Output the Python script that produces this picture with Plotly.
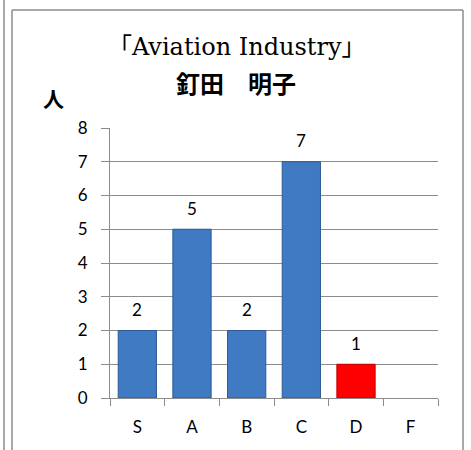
import plotly.graph_objects as go

categories = ["S", "A", "B", "C", "D", "F"]
counts = [2, 5, 2, 7, 1, 0]
bar_colors = ["#3F7AC3", "#3F7AC3", "#3F7AC3", "#3F7AC3", "#FF0000", "#3F7AC3"]
line_colors = ["#2B5A96", "#2B5A96", "#2B5A96", "#2B5A96", "#C00000", "rgba(0,0,0,0)"]
labels = ["2", "5", "2", "7", "1", ""]
y_ticks = [0, 1, 2, 3, 4, 5, 6, 7, 8]

title_line1 = "「Aviation Industry」"
title_line2 = "釘田　明子"
y_unit = "人"

FONT = "Lato, Open Sans, sans-serif"

fig = go.Figure()
fig.add_trace(go.Bar(
    x=categories, y=counts,
    marker=dict(color=bar_colors, line=dict(color=line_colors, width=1)),
    width=0.7,
))

W, H = 471, 450
ml, mr, mt, mb = 110, 33, 128, 52
pw, ph = W - ml - mr, H - mt - mb

def px(x):
    return (x - ml) / pw

def py(y):
    return (H - mb - y) / ph

grey = "#8C8C8C"
shapes = [
    dict(type="line", xref="paper", yref="paper", x0=px(12), x1=px(12), y0=py(10), y1=py(460), line=dict(color=grey, width=1.5)),
    dict(type="line", xref="paper", yref="paper", x0=px(463), x1=px(463), y0=py(10), y1=py(460), line=dict(color=grey, width=1.5)),
    dict(type="line", xref="paper", yref="paper", x0=px(12), x1=px(463), y0=py(10), y1=py(10), line=dict(color=grey, width=1.5)),
    dict(type="line", xref="paper", yref="paper", x0=px(4), x1=px(4), y0=py(0), y1=py(460), line=dict(color=grey, width=1.5)),
]

annotations = [
    dict(text=lab, x=c, y=v, xref="x", yref="y", showarrow=False, yshift=21,
         xanchor="center", yanchor="middle",
         font=dict(family=FONT, size=17, color="#000"))
    for c, v, lab in zip(categories, counts, labels) if lab
]
annotations += [
    dict(text=title_line1, xref="paper", yref="paper", x=px(237), y=py(47), showarrow=False,
         xanchor="center", yanchor="middle",
         font=dict(family="DejaVu Serif, Noto Sans CJK JP, serif", size=24, color="#000")),
    dict(text="<b>" + title_line2 + "</b>", xref="paper", yref="paper", x=px(236), y=py(83), showarrow=False,
         xanchor="center", yanchor="middle",
         font=dict(family="Noto Sans CJK JP, sans-serif", size=24, color="#000")),
    dict(text="<b>" + y_unit + "</b>", xref="paper", yref="paper", x=px(53), y=py(98), showarrow=False,
         xanchor="center", yanchor="middle",
         font=dict(family="Noto Sans CJK JP, sans-serif", size=21, color="#000")),
]

fig.update_layout(
    width=W, height=H,
    margin=dict(l=ml, r=mr, t=mt, b=mb),
    paper_bgcolor="white", plot_bgcolor="white",
    showlegend=False,
    bargap=0.3,
    shapes=shapes,
    annotations=annotations,
    xaxis=dict(
        showline=True, linecolor=grey, linewidth=1,
        ticks="outside", ticklen=7, tickcolor=grey,
        tickson="boundaries",
        tickfont=dict(family=FONT, size=17, color="#000"),
        ticklabelstandoff=14,
        showgrid=False,
    ),
    yaxis=dict(
        range=[0, 8], tickvals=y_ticks,
        showline=True, linecolor=grey, linewidth=1,
        ticks="outside", ticklen=8, tickcolor=grey,
        gridcolor=grey, gridwidth=1,
        zeroline=False,
        tickfont=dict(family=FONT, size=17, color="#000"),
        ticklabelstandoff=10,
    ),
)

fig.write_html("out.html", config={"displayModeBar": False},
               post_script="document.body.style.margin='0';document.body.style.overflow='hidden';")
